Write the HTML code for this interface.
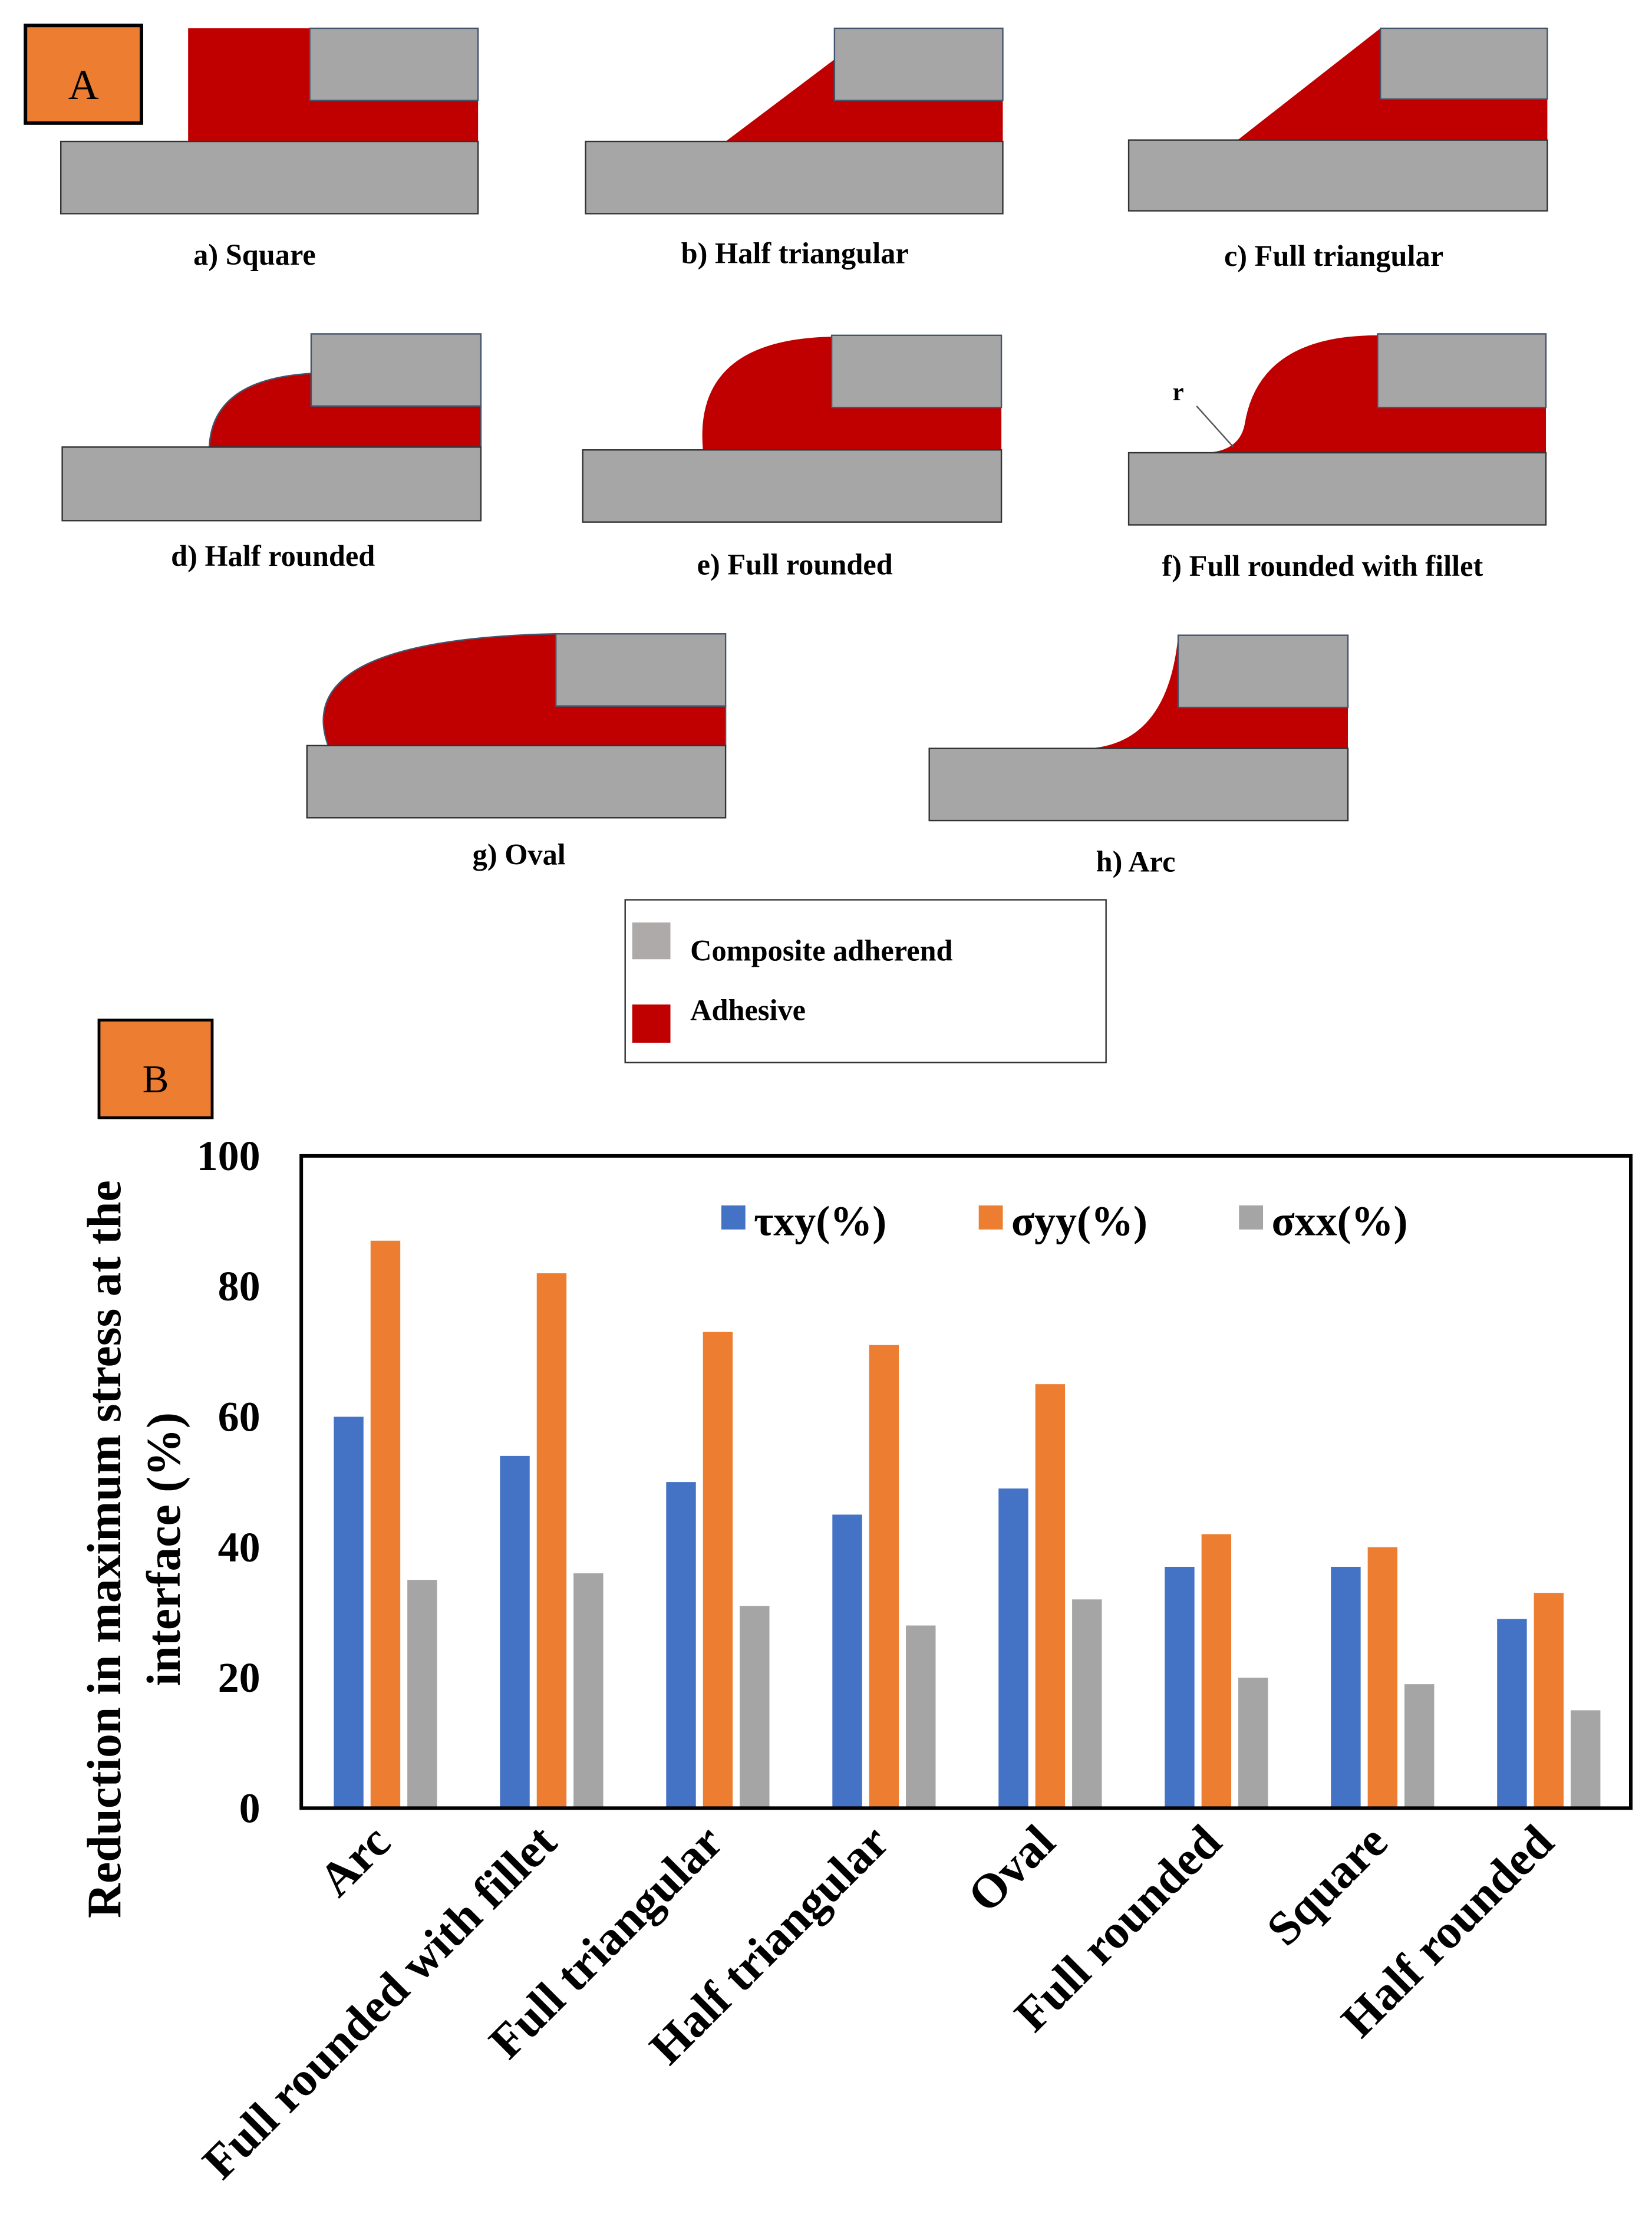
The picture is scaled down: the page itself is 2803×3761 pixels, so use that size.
<!DOCTYPE html>
<html><head><meta charset="utf-8"><style>
html,body{margin:0;padding:0;background:#fff;}
svg{display:block;}
text{font-family:"Liberation Serif",serif;}
</style></head>
<body>
<svg id="fig" width="2803" height="3761" viewBox="0 0 1168 1567" preserveAspectRatio="none" xmlns="http://www.w3.org/2000/svg">
<g stroke-width="1">
 <rect x="18" y="18" width="82" height="69" fill="#ed7d31" stroke="#000" stroke-width="2.5"/>
 <text x="59" y="70" font-size="30" text-anchor="middle">A</text>

 <g>
  <rect x="133" y="20" width="205" height="80" fill="#c00000"/>
  <rect x="219" y="20" width="119" height="51" fill="#a6a6a6" stroke="#44546a"/>
  <rect x="43" y="100" width="295" height="51" fill="#a6a6a6" stroke="#333"/>
  <text x="180" y="187" font-size="21" font-weight="bold" text-anchor="middle">a) Square</text>
 </g>
 <g>
  <polygon points="513,100 590,42 590,71 709,71 709,100" fill="#c00000"/>
  <rect x="590" y="20" width="119" height="51" fill="#a6a6a6" stroke="#44546a"/>
  <rect x="414" y="100" width="295" height="51" fill="#a6a6a6" stroke="#333"/>
  <text x="562" y="186" font-size="21" font-weight="bold" text-anchor="middle">b) Half triangular</text>
 </g>
 <g>
  <polygon points="875,99 976,20 976,70 1094,70 1094,99" fill="#c00000"/>
  <rect x="976" y="20" width="118" height="50" fill="#a6a6a6" stroke="#44546a"/>
  <rect x="798" y="99" width="296" height="50" fill="#a6a6a6" stroke="#333"/>
  <text x="943" y="188" font-size="21" font-weight="bold" text-anchor="middle">c) Full triangular</text>
 </g>
 <g>
  <path d="M148,316 Q150,268 220,264 L220,287 L340,287 L340,316 Z" fill="#c00000" stroke="#44546a"/>
  <rect x="220" y="236" width="120" height="51" fill="#a6a6a6" stroke="#44546a"/>
  <rect x="44" y="316" width="296" height="52" fill="#a6a6a6" stroke="#333"/>
  <text x="193" y="400" font-size="21" font-weight="bold" text-anchor="middle">d) Half rounded</text>
 </g>
 <g>
  <path d="M497,318 Q490,240 588,238 L588,288 L708,288 L708,318 Z" fill="#c00000"/>
  <rect x="588" y="237" width="120" height="51" fill="#a6a6a6" stroke="#44546a"/>
  <rect x="412" y="318" width="296" height="51" fill="#a6a6a6" stroke="#333"/>
  <text x="562" y="406" font-size="21" font-weight="bold" text-anchor="middle">e) Full rounded</text>
 </g>
 <g>
  <path d="M850,320 Q876,320 880,300 Q890,237 974,237 L974,288 L1093,288 L1093,320 Z" fill="#c00000"/>
  <rect x="974" y="236" width="119" height="52" fill="#a6a6a6" stroke="#44546a"/>
  <rect x="798" y="320" width="295" height="51" fill="#a6a6a6" stroke="#333"/>
  <text x="833" y="283" font-size="18" font-weight="bold" text-anchor="middle">r</text>
  <line x1="846" y1="287" x2="872" y2="316" stroke="#555"/>
  <text x="935" y="407" font-size="21" font-weight="bold" text-anchor="middle">f) Full rounded with fillet</text>
 </g>
 <g>
  <path d="M232,527 Q205,452 393,448 L393,499 L513,499 L513,527 Z" fill="#c00000" stroke="#44546a"/>
  <rect x="393" y="448" width="120" height="51" fill="#a6a6a6" stroke="#44546a"/>
  <rect x="217" y="527" width="296" height="51" fill="#a6a6a6" stroke="#333"/>
  <text x="367" y="611" font-size="21" font-weight="bold" text-anchor="middle">g) Oval</text>
 </g>
 <g>
  <path d="M770,529 Q826,525 833,449 L833,500 L953,500 L953,529 Z" fill="#c00000"/>
  <rect x="833" y="449" width="120" height="51" fill="#a6a6a6" stroke="#44546a"/>
  <rect x="657" y="529" width="296" height="51" fill="#a6a6a6" stroke="#333"/>
  <text x="803" y="616" font-size="21" font-weight="bold" text-anchor="middle">h) Arc</text>
 </g>
 <g>
  <rect x="442" y="636" width="340" height="115" fill="#fff" stroke="#333"/>
  <rect x="447" y="652" width="27" height="26" fill="#aeaaaa"/>
  <text x="488" y="679" font-size="21" font-weight="bold">Composite adherend</text>
  <rect x="447" y="710" width="27" height="27" fill="#c00000"/>
  <text x="488" y="721" font-size="21" font-weight="bold">Adhesive</text>
 </g>
</g>

<g>
 <rect x="70" y="721" width="80" height="69" fill="#ed7d31" stroke="#000" stroke-width="2"/>
 <text x="110" y="772" font-size="28" text-anchor="middle">B</text>
 <g id="chart"></g>
</g>
</svg>
<script>
const categories=["Arc","Full rounded with fillet","Full triangular","Half triangular","Oval","Full rounded","Square","Half rounded"];
const tauXY=[60,54,50,45,49,37,37,29];
const sigmaYY=[87,82,73,71,65,42,40,33];
const sigmaXX=[35,36,31,28,32,20,19,15];
const yTicks=[0,20,40,60,80,100];
const seriesNames=["τxy(%)","σyy(%)","σxx(%)"];

const NS="http://www.w3.org/2000/svg";
const g=document.getElementById('chart');
const X0=213,X1=1153,Y0=1278,Y1=817;
const y=v=>Y0-(v/100)*(Y0-Y1);
const gw=(X1-X0)/categories.length;
const gx=i=>X0+i*gw;
function mk(tag,attrs,parent){const e=document.createElementNS(NS,tag);for(const k in attrs)e.setAttribute(k,attrs[k]);(parent||g).appendChild(e);return e;}
const colors=["#4472c4","#ed7d31","#a5a5a5"];
const series=[tauXY,sigmaYY,sigmaXX];
const sNames=["bar-tau-xy","bar-sigma-yy","bar-sigma-xx"];
series.forEach((arr,s)=>{arr.forEach((v,i)=>{
  const r=mk('rect',{x:gx(i)+23+s*26,y:y(v),width:21,height:Y0-y(v),fill:colors[s]});
  
  
});});
const frame=mk('rect',{x:X0,y:Y1,width:X1-X0,height:Y0-Y1,fill:'none',stroke:'#000','stroke-width':2.5});


yTicks.forEach(t=>{
  const tx=mk('text',{x:184,y:y(t)+10,'font-size':30,'font-weight':'bold','text-anchor':'end'});
  tx.textContent=t;
  
  
});
categories.forEach((c,i)=>{
  const cx=gx(i)+gw/2+6, cy=1304;
  const tx=mk('text',{x:cx,y:cy,'font-size':34,'font-weight':'bold','text-anchor':'end',transform:`rotate(-45 ${cx} ${cy})`});
  tx.textContent=c;
  
  
});
const yt=mk('text',{x:0,y:0,'font-size':34,'font-weight':'bold','text-anchor':'middle',transform:'translate(85,1095) rotate(-90)'});
yt.textContent='Reduction in maximum stress at the';


const yt2=mk('text',{x:0,y:0,'font-size':34,'font-weight':'bold','text-anchor':'middle',transform:'translate(127,1095) rotate(-90)'});
yt2.textContent='interface (%)';


const lx=[510,692,876];
seriesNames.forEach((n,s)=>{
  const r=mk('rect',{x:lx[s],y:852,width:17,height:17,fill:colors[s]});
  
  
  const t=mk('text',{x:lx[s]+23,y:873,'font-size':30,'font-weight':'bold'});
  t.textContent=n;
  
  
});
</script>
</body></html>
